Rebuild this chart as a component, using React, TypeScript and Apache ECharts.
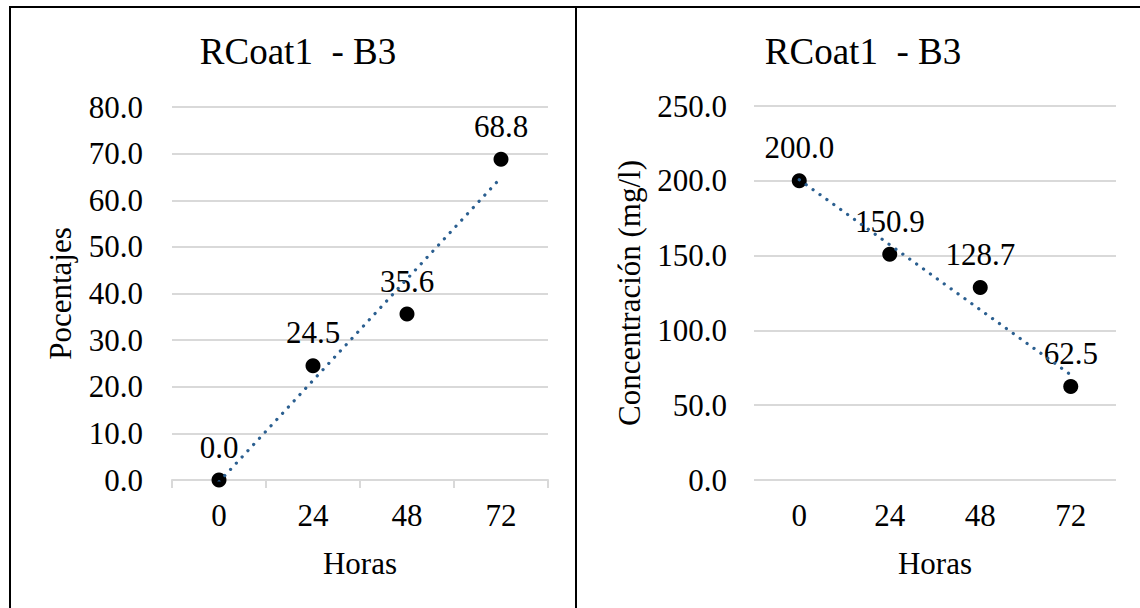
import React, { useEffect, useRef } from "react";
import * as echarts from "echarts";

const hours = ["0", "24", "48", "72"];
const percentValues = [0.0, 24.5, 35.6, 68.8];
const concentrationValues = [200.0, 150.9, 128.7, 62.5];
const chartTitle = "RCoat1  - B3";
const leftYName = "Pocentajes";
const rightYName = "Concentración (mg/l)";
const xName = "Horas";

const FONT = "'Liberation Serif', 'Times New Roman', serif";
const TREND_COLOR = "#2B5F90";
const GRID_COLOR = "#D9D9D9";

function linearFit(values: number[]): number[] {
  const n = values.length;
  const mx = (n - 1) / 2;
  const my = values.reduce((a, b) => a + b, 0) / n;
  let sxy = 0;
  let sxx = 0;
  values.forEach((v, i) => {
    sxy += (i - mx) * (v - my);
    sxx += (i - mx) * (i - mx);
  });
  const b = sxy / sxx;
  const a = my - b * mx;
  return values.map((_, i) => a + b * i);
}

export default function App() {
  const ref = useRef<HTMLDivElement>(null);

  useEffect(() => {
    if (!ref.current) return;
    const chart = echarts.init(ref.current, undefined, { renderer: "svg" });

    const labelStyle = {
      show: true,
      position: "top" as const,
      distance: 10,
      color: "#000",
      opacity: 1,
      fontFamily: FONT,
      fontSize: 31,
      formatter: (p: any) => Number(p.value).toFixed(1),
    };

    const yAxisCommon = {
      type: "value" as const,
      nameLocation: "middle" as const,
      nameTextStyle: { fontFamily: FONT, fontSize: 31, color: "#000" },
      axisLine: { show: false },
      axisTick: { show: false },
      splitLine: { lineStyle: { color: GRID_COLOR, width: 2 } },
      axisLabel: {
        color: "#000",
        fontFamily: FONT,
        fontSize: 31,
        formatter: (v: number) => v.toFixed(1),
      },
    };

    const trendStyle = { color: TREND_COLOR, width: 3.2, type: [0.1, 8.4], cap: "round", opacity: 1 };

    const option: any = {
      animation: false,
      backgroundColor: "#fff",
      title: [
        {
          text: chartTitle,
          left: 293,
          top: 28,
          textAlign: "center",
          textStyle: { fontFamily: FONT, fontSize: 37, fontWeight: "normal", color: "#000" },
        },
        {
          text: chartTitle,
          left: 858,
          top: 28,
          textAlign: "center",
          textStyle: { fontFamily: FONT, fontSize: 37, fontWeight: "normal", color: "#000" },
        },
      ],
      grid: [
        { left: 172, right: 592, top: 107, bottom: 128 },
        { left: 754, right: 24, top: 106, bottom: 128 },
      ],
      xAxis: [
        {
          type: "category",
          gridIndex: 0,
          data: hours,
          boundaryGap: true,
          name: xName,
          nameLocation: "middle",
          nameGap: 68,
          nameTextStyle: { fontFamily: FONT, fontSize: 31, color: "#000" },
          axisLine: { show: true, lineStyle: { color: GRID_COLOR, width: 2 } },
          axisTick: { show: true, length: 8, lineStyle: { color: GRID_COLOR, width: 2 } },
          axisLabel: { color: "#000", fontFamily: FONT, fontSize: 31, margin: 20 },
        },
        {
          type: "category",
          gridIndex: 1,
          data: hours,
          boundaryGap: true,
          name: xName,
          nameLocation: "middle",
          nameGap: 68,
          nameTextStyle: { fontFamily: FONT, fontSize: 31, color: "#000" },
          axisLine: { show: false },
          axisTick: { show: false },
          axisLabel: { color: "#000", fontFamily: FONT, fontSize: 31, margin: 20 },
        },
      ],
      yAxis: [
        {
          ...yAxisCommon,
          gridIndex: 0,
          min: 0,
          max: 80,
          interval: 10,
          name: leftYName,
          nameGap: 96,
          axisLabel: { ...yAxisCommon.axisLabel, margin: 29 },
        },
        {
          ...yAxisCommon,
          gridIndex: 1,
          min: 0,
          max: 250,
          interval: 50,
          name: rightYName,
          nameGap: 109,
          axisLabel: { ...yAxisCommon.axisLabel, margin: 27 },
        },
      ],
      series: [
        {
          type: "scatter",
          xAxisIndex: 0,
          yAxisIndex: 0,
          data: percentValues,
          symbol: "circle",
          symbolSize: 15,
          itemStyle: { color: "#000", opacity: 1 },
          label: labelStyle,
          z: 2,
        },
        {
          type: "line",
          xAxisIndex: 0,
          yAxisIndex: 0,
          data: linearFit(percentValues),
          showSymbol: false,
          symbol: "none",
          lineStyle: trendStyle,
          z: 3,
        },
        {
          type: "scatter",
          xAxisIndex: 1,
          yAxisIndex: 1,
          data: concentrationValues,
          symbol: "circle",
          symbolSize: 15,
          itemStyle: { color: "#000", opacity: 1 },
          label: labelStyle,
          z: 2,
        },
        {
          type: "line",
          xAxisIndex: 1,
          yAxisIndex: 1,
          data: linearFit(concentrationValues),
          showSymbol: false,
          symbol: "none",
          lineStyle: trendStyle,
          z: 3,
        },
      ],
      graphic: [
        {
          type: "polyline",
          shape: { points: [[10, 608], [10, 7], [1140, 7]] },
          style: { stroke: "#000", lineWidth: 2, fill: "none" },
          z: 10,
        },
        {
          type: "line",
          shape: { x1: 576, y1: 7, x2: 576, y2: 608 },
          style: { stroke: "#000", lineWidth: 2 },
          z: 10,
        },
      ],
    };

    chart.setOption(option);
    return () => chart.dispose();
  }, []);

  return (
    <div
      ref={ref}
      style={{ position: "fixed", left: 0, top: 0, width: 1140, height: 608 }}
    />
  );
}
